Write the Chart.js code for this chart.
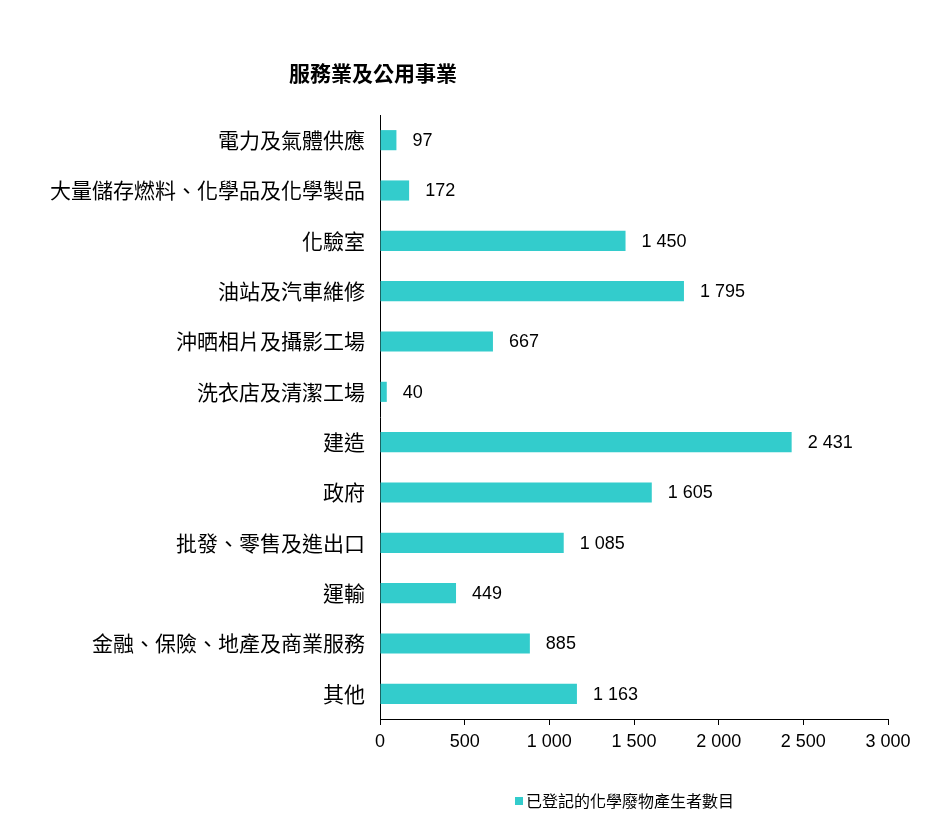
<!DOCTYPE html>
<html>
<head>
<meta charset="utf-8">
<script src="https://cdn.jsdelivr.net/npm/chart.js@4"></script>
<style>
  html, body { margin: 0; padding: 0; background: #fff; }
  #wrap { width: 939px; height: 829px; }
</style>
</head>
<body>
<div id="wrap"><canvas id="wasteChart"></canvas></div>
<script>
const categories = [
    '電力及氣體供應',
    '大量儲存燃料、化學品及化學製品',
    '化驗室',
    '油站及汽車維修',
    '沖晒相片及攝影工場',
    '洗衣店及清潔工場',
    '建造',
    '政府',
    '批發、零售及進出口',
    '運輸',
    '金融、保險、地產及商業服務',
    '其他'
];
const producers = [97, 172, 1450, 1795, 667, 40, 2431, 1605, 1085, 449, 885, 1163];
const xTicks = [0, 500, 1000, 1500, 2000, 2500, 3000];
const seriesName = '已登記的化學廢物產生者數目';
const chartTitle = '服務業及公用事業';

const barColor = '#33CCCC';
const cjkFont = '"Noto Sans CJK TC", "Noto Sans CJK SC", sans-serif';
const numFont = '"Liberation Sans", Arial, sans-serif';

function fmt(v) {
    return String(v).replace(/\B(?=(\d{3})+(?!\d))/g, ' ');
}

// title, value labels and legend drawn by hand
const extras = {
    id: 'extras',
    afterDatasetsDraw(chart) {
        const ctx = chart.ctx;
        const meta = chart.getDatasetMeta(0);
        ctx.save();
        ctx.fillStyle = '#000';
        ctx.font = '18px ' + numFont;
        ctx.textAlign = 'left';
        ctx.textBaseline = 'middle';
        meta.data.forEach((bar, i) => {
            ctx.fillText(fmt(producers[i]), bar.x + 16, bar.y + 1);
        });

        ctx.font = 'bold 21px ' + cjkFont;
        ctx.textAlign = 'center';
        ctx.fillText(chartTitle, 373, 73);

        ctx.fillStyle = barColor;
        ctx.fillRect(515, 797, 8, 8);
        ctx.fillStyle = '#000';
        ctx.font = '16px ' + cjkFont;
        ctx.textAlign = 'left';
        ctx.fillText(seriesName, 526, 801);
        ctx.restore();
    }
};

new Chart(document.getElementById('wasteChart'), {
    type: 'bar',
    data: {
        labels: categories,
        datasets: [{
            label: seriesName,
            data: producers,
            backgroundColor: barColor,
            borderWidth: 0,
            categoryPercentage: 1,
            barPercentage: 0.4
        }]
    },
    options: {
        indexAxis: 'y',
        responsive: true,
        maintainAspectRatio: false,
        animation: false,
        layout: {
            padding: { top: 115, right: 51, left: 0, bottom: 0 }
        },
        plugins: {
            legend: { display: false },
            title: { display: false },
            tooltip: { enabled: false }
        },
        scales: {
            x: {
                min: 0,
                max: 3000,
                afterBuildTicks: (scale) => {
                    scale.ticks = xTicks.map(v => ({ value: v }));
                },
                afterFit: (scale) => { scale.height = 110; },
                border: { display: true, color: '#000', width: 1 },
                grid: {
                    drawOnChartArea: false,
                    drawTicks: true,
                    tickLength: 6,
                    color: '#000'
                },
                ticks: {
                    color: '#000',
                    padding: 6,
                    maxRotation: 0,
                    font: { family: numFont, size: 18 },
                    callback: (v) => fmt(v)
                }
            },
            y: {
                afterFit: (scale) => { scale.width = 380; },
                border: { display: true, color: '#000', width: 1 },
                grid: { display: false, drawTicks: false },
                ticks: {
                    color: '#000',
                    padding: 15,
                    font: { family: cjkFont, size: 21 }
                }
            }
        }
    },
    plugins: [extras]
});
</script>
</body>
</html>
